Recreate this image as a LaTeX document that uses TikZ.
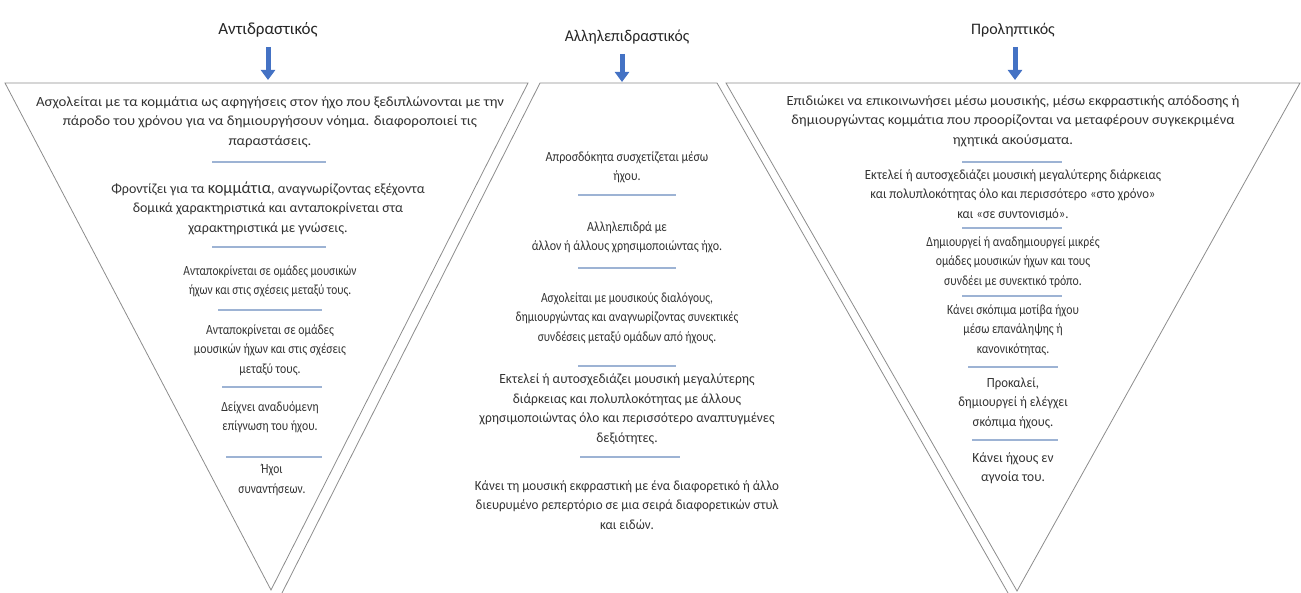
\documentclass[tikz,border=0pt]{standalone}
\usepackage{fontspec}
\setmainfont{Carlito}
\usetikzlibrary{arrows.meta}
\definecolor{sepblue}{HTML}{9DB3D4}
\definecolor{arrblue}{HTML}{4472C4}
\definecolor{txtgray}{HTML}{333333}
\newcommand{\fst}[1]{\fontsize{14}{19.5}\selectfont\addfontfeatures{FakeStretch=#1}}
\begin{document}
\begin{tikzpicture}[x=1pt,y=-1pt,
  tri/.style={draw=black!45, line width=0.8pt, line join=miter},
  txt/.style={align=center, text=txtgray, inner sep=0pt},
  sepline/.style={draw=sepblue, line width=1.2pt},
  title/.style={font=\fontsize{16}{18}\selectfont, text=black!85, inner sep=1pt},
  arr/.style={draw=arrblue, line width=5pt, -{Triangle[width=14pt,length=10pt]}}]
\useasboundingbox (0,0) rectangle (1301,593);
% triangles
\draw[tri] (5,83) -- (528,83) -- (271,590) -- cycle;
\draw[tri] (282,593) -- (540,83) -- (717,83) -- (1008,593);
\draw[tri] (726,83) -- (1300,83) -- (1017,591) -- cycle;
% titles and arrows
\node[title, font=\fontsize{17}{18}\selectfont] (t1) at (268,30) {Αντιδραστικός};
\node[title, font=\fontsize{16.5}{18}\selectfont\addfontfeatures{FakeStretch=0.95}] (t2) at (627,37) {Αλληλεπιδραστικός};
\node[title] (t3) at (1013,30) {Προληπτικός};
\coordinate (a1) at (268,80);
\coordinate (a2) at (622,82);
\coordinate (a3) at (1015,80);
\draw[arr] (268,47) -- (a1);
\draw[arr] (622,54) -- (a2);
\draw[arr] (1015,47) -- (a3);
% left texts
\node[txt, font=\fst{1.06}] (l1) at (270,122) {Ασχολείται με τα κομμάτια ως αφηγήσεις στον ήχο που ξεδιπλώνονται με την\\πάροδο του χρόνου για να δημιουργήσουν νόημα. διαφοροποιεί τις\\παραστάσεις.};
\node[txt, font=\fst{1.0}] (l2) at (268,208) {Φροντίζει για τα {\fontsize{16.5}{19.5}\selectfont κομμάτια}, αναγνωρίζοντας εξέχοντα\\δομικά χαρακτηριστικά και ανταποκρίνεται στα\\χαρακτηριστικά με γνώσεις.};
\node[txt, font=\fst{0.82}] (l3) at (270,281) {Ανταποκρίνεται σε ομάδες μουσικών\\ήχων και στις σχέσεις μεταξύ τους.};
\node[txt, font=\fst{0.84}] (l4) at (270,350) {Ανταποκρίνεται σε ομάδες\\μουσικών ήχων και στις σχέσεις\\μεταξύ τους.};
\node[txt, font=\fst{0.84}] (l5) at (270,417) {Δείχνει αναδυόμενη\\επίγνωση του ήχου.};
\node[txt, font=\fst{0.82}] (l6) at (272,480) {Ήχοι\\συναντήσεων.};
\draw[sepline] (212,162) -- (326,162);
\draw[sepline] (212,247) -- (326,247);
\draw[sepline] (218,310) -- (322,310);
\draw[sepline] (222,387) -- (322,387);
\draw[sepline] (226,457) -- (322,457);
% middle texts
\node[txt, font=\fst{0.86}] (m1) at (627,167) {Απροσδόκητα συσχετίζεται μέσω\\ήχου.};
\node[txt, font=\fst{0.86}] (m2) at (627,237) {Αλληλεπιδρά με\\άλλον ή άλλους χρησιμοποιώντας ήχο.};
\node[txt, font=\fst{0.82}] (m3) at (627,318) {Ασχολείται με μουσικούς διαλόγους,\\δημιουργώντας και αναγνωρίζοντας συνεκτικές\\συνδέσεις μεταξύ ομάδων από ήχους.};
\node[txt, font=\fst{0.96}] (m4) at (627,409) {Εκτελεί ή αυτοσχεδιάζει μουσική μεγαλύτερης\\διάρκειας και πολυπλοκότητας με άλλους\\χρησιμοποιώντας όλο και περισσότερο αναπτυγμένες\\δεξιότητες.};
\node[txt, font=\fst{0.93}] (m5) at (627,505) {Κάνει τη μουσική εκφραστική με ένα διαφορετικό ή άλλο\\διευρυμένο ρεπερτόριο σε μια σειρά διαφορετικών στυλ\\και ειδών.};
\draw[sepline] (578,195) -- (676,195);
\draw[sepline] (578,268) -- (676,268);
\draw[sepline] (578,366) -- (676,366);
\draw[sepline] (580,457) -- (680,457);
% right texts
\node[txt, font=\fst{1.04}] (r1) at (1013,121) {Επιδιώκει να επικοινωνήσει μέσω μουσικής, μέσω εκφραστικής απόδοσης ή\\δημιουργώντας κομμάτια που προορίζονται να μεταφέρουν συγκεκριμένα\\ηχητικά ακούσματα.};
\node[txt, font=\fst{0.91}] (r2) at (1013,195) {Εκτελεί ή αυτοσχεδιάζει μουσική μεγαλύτερης διάρκειας\\και πολυπλοκότητας όλο και περισσότερο «στο χρόνο»\\και «σε συντονισμό».};
\node[txt, font=\fst{0.84}] (r3) at (1013,262) {Δημιουργεί ή αναδημιουργεί μικρές\\ομάδες μουσικών ήχων και τους\\συνδέει με συνεκτικό τρόπο.};
\node[txt, font=\fst{0.84}] (r4) at (1013,330) {Κάνει σκόπιμα μοτίβα ήχου\\μέσω επανάληψης ή\\κανονικότητας.};
\node[txt, font=\fst{0.91}] (r5) at (1013,403) {Προκαλεί,\\δημιουργεί ή ελέγχει\\σκόπιμα ήχους.};
\node[txt, font=\fst{0.96}] (r6) at (1013,468) {Κάνει ήχους εν\\αγνοία του.};
\draw[sepline] (962,162) -- (1062,162);
\draw[sepline] (962,228) -- (1062,228);
\draw[sepline] (962,296) -- (1062,296);
\draw[sepline] (968,367) -- (1058,367);
\draw[sepline] (972,440) -- (1058,440);
\end{tikzpicture}
\end{document}
